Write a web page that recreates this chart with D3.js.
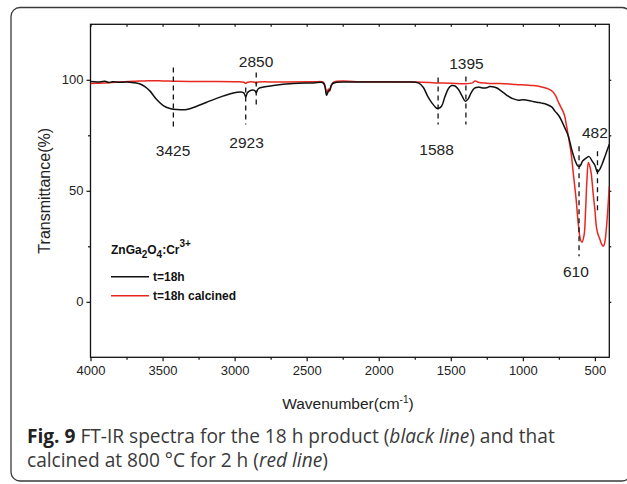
<!DOCTYPE html>
<html>
<head>
<meta charset="utf-8">
<script src="https://cdn.jsdelivr.net/npm/d3@7"></script>
<style>
  html, body { margin: 0; padding: 0; background: #fff; }
  svg { display: block; }
</style>
</head>
<body>
<svg id="chart" width="627" height="484"></svg>
<script>
// ---------------- DATA ----------------
const blackWavenumber = [4000,3950,3900,3870,3850,3800,3750,3700,3660,3620,3587,3541,3495,3449,3400,3332,3263,3194,3101,3009,2955,2935,2923,2910,2885,2862,2850,2838,2824,2732,2593,2454,2390,2375,2362,2352,2340,2325,2300,2200,2000,1800,1725,1690,1660,1630,1600,1588,1564,1540,1515,1494,1470,1445,1420,1400,1380,1360,1335,1309,1280,1251,1230,1210,1180,1158,1130,1101,1070,1031,1000,973,940,904,870,834,800,777,750,730,706,684,661,638,620,605,585,566,540,520,500,482,465,450,430,400];
const blackTransmittance = [99.2,99.0,99.3,98.8,99.1,98.9,99.0,98.7,98.2,96.8,94.9,91.1,88.4,87.1,86.6,86.6,88.1,89.9,92.2,94.1,94.5,94.0,92.3,94.3,95.3,95.2,94.2,95.8,96.4,97.4,98.3,98.6,98.8,97.5,93.0,94.5,95.5,98.0,98.8,99.0,99.0,99.0,98.6,96.5,92.5,89.5,87.3,87.1,88.1,92.5,96.2,97.4,97.2,95.5,92.5,90.4,91.3,94.0,96.2,96.7,96.3,96.4,97.0,96.9,96.3,95.3,94.0,92.6,91.5,90.8,91.0,90.8,90.4,89.9,89.5,88.9,87.8,85.9,83.8,81.4,78.0,74.6,68.6,63.8,61.3,61.0,63.4,64.5,65.4,63.5,61.5,58.4,59.8,62.0,65.5,71.0];

const redWavenumber = [4000,3950,3900,3850,3800,3700,3600,3500,3400,3200,3000,2935,2923,2910,2860,2850,2840,2700,2450,2385,2372,2360,2350,2340,2328,2310,2100,1900,1750,1650,1588,1500,1400,1350,1330,1310,1250,1158,1050,927,870,823,790,770,750,730,711,696,680,665,650,630,615,600,590,575,565,555,545,535,526,510,500,490,480,465,452,442,432,423,412,400];
const redTransmittance = [98.3,98.4,98.6,98.8,99.0,99.3,99.6,99.5,99.3,99.2,99.1,98.9,98.3,98.9,98.9,98.4,98.9,99.0,99.1,98.9,97.0,94.2,95.8,95.0,97.5,99.0,99.1,99.1,99.0,98.8,98.6,98.5,98.2,98.6,99.5,98.9,98.5,98.3,97.9,97.4,96.8,95.9,94.5,92.5,89.5,87.0,84.0,79.0,73.0,67.0,58.0,46.0,35.0,28.0,26.8,30.0,40.5,55.0,62.8,61.0,58.1,47.5,41.6,34.0,30.8,28.1,25.8,25.0,26.5,31.1,40.0,52.0];

const xTickValues = [4000,3500,3000,2500,2000,1500,1000,500];
const xMinorTicks = [3750,3250,2750,2250,1750,1250,750];
const yTickValues = [0,50,100];
const yMinorTicks = [25,75];

const peakLabels = ["3425","2923","2850","1588","1395","610","482"];
const peakWavenumbers = [3425,2923,2850,1588,1395,610,482];

const seriesNames = ["t=18h","t=18h calcined"];
const seriesColors = ["#111111","#e8281e"];

// ---------------- LAYOUT ----------------
const svg = d3.select("#chart");
const PL = 90.5, PR = 609.3, PT = 24.3, PB = 357.3;
const x = d3.scaleLinear().domain([4000, 400]).range([PL, PR]);
const y = d3.scaleLinear().domain([-25, 125]).range([PB, PT]);
const FONT = "'Liberation Sans', Arial, Helvetica, sans-serif";

// outer figure border (rounded, clipped at right)
svg.append("rect")
  .attr("x", 11).attr("y", 7.5).attr("width", 620).attr("height", 473.5)
  .attr("rx", 9).attr("ry", 9)
  .attr("fill", "none").attr("stroke", "#3a3a3a").attr("stroke-width", 1.3);

// clip for spectra
svg.append("clipPath").attr("id", "plotclip")
  .append("rect").attr("x", PL).attr("y", PT).attr("width", PR - PL).attr("height", PB - PT);

// axes
const axisColor = "#111";
const gBottom = svg.append("g").attr("transform", `translate(0,${PB})`)
  .call(d3.axisBottom(x).tickValues(xTickValues).tickSize(4).tickPadding(4).tickFormat(d3.format("d")));
const gBottomMinor = svg.append("g").attr("transform", `translate(0,${PB})`)
  .call(d3.axisBottom(x).tickValues(xMinorTicks).tickSize(2.5).tickFormat(""));
const gTop = svg.append("g").attr("transform", `translate(0,${PT})`)
  .call(d3.axisBottom(x).tickValues(xTickValues.concat(xMinorTicks)).tickSize(2.5).tickFormat(""));
const gLeft = svg.append("g").attr("transform", `translate(${PL},0)`)
  .call(d3.axisLeft(y).tickValues(yTickValues).tickSize(4).tickPadding(3).tickFormat(d3.format("d")));
const gLeftMinor = svg.append("g").attr("transform", `translate(${PL},0)`)
  .call(d3.axisLeft(y).tickValues(yMinorTicks).tickSize(2.5).tickFormat(""));
const gRight = svg.append("g").attr("transform", `translate(${PR},0)`)
  .call(d3.axisRight(y).tickValues(yTickValues.concat(yMinorTicks)).tickSize(2).tickFormat(""));

[gBottom, gBottomMinor, gTop, gLeft, gLeftMinor, gRight].forEach(g => {
  g.select(".domain").remove();
  g.selectAll("line").attr("stroke", axisColor).attr("stroke-width", 1.2);
  g.selectAll("text").attr("font-family", FONT).attr("font-size", 13).attr("fill", "#222");
});

// frame
svg.append("rect").attr("x", PL).attr("y", PT).attr("width", PR - PL).attr("height", PB - PT)
  .attr("fill", "none").attr("stroke", axisColor).attr("stroke-width", 1.3);

// axis titles
svg.append("text")
  .attr("transform", `translate(46,${(PT + PB) / 2}) rotate(-90)`)
  .attr("text-anchor", "middle").attr("dominant-baseline", "middle")
  .attr("font-family", FONT).attr("font-size", 16).attr("fill", "#222")
  .text("Transmittance(%)");

const xt = svg.append("text")
  .attr("x", (PL + PR) / 2 - 2).attr("y", 408.5)
  .attr("text-anchor", "middle")
  .attr("font-family", FONT).attr("font-size", 15.5).attr("fill", "#222");
xt.append("tspan").text("Wavenumber(cm");
xt.append("tspan").attr("font-size", 10).attr("dy", -6).text("-1");
xt.append("tspan").attr("dy", 6).text(")");

// spectra
const line = d3.line().x(d => x(d[0])).y(d => y(d[1])).curve(d3.curveCatmullRom.alpha(0.5));
const blackData = d3.zip(blackWavenumber, blackTransmittance);
const redData = d3.zip(redWavenumber, redTransmittance);
const plot = svg.append("g").attr("clip-path", "url(#plotclip)");
plot.append("path").datum(redData).attr("d", line)
  .attr("fill", "none").attr("stroke", seriesColors[1]).attr("stroke-width", 1.5);
plot.append("path").datum(blackData).attr("d", line)
  .attr("fill", "none").attr("stroke", seriesColors[0]).attr("stroke-width", 1.5);

// peak annotations (vertical extents & label positions in data units)
const annot = {
  "3425": {y0: 105.5, y1: 78.1, lx: 3427, ly: 68.2},
  "2923": {y0: 96.5,  y1: 79.9, lx: 2917, ly: 71.8},
  "2850": {y0: 103.3, y1: 88.9, lx: 2851, ly: 108.2},
  "1588": {y0: 101.0, y1: 79.9, lx: 1599, ly: 68.6},
  "1395": {y0: 101.5, y1: 79.9, lx: 1391, ly: 107.3},
  "610":  {y0: 70.1,  y1: 20.5, lx: 632,  ly: 13.6},
  "482":  {y0: 67.8,  y1: 40.2, lx: 500,  ly: 76.3}
};
const ag = svg.append("g");
peakLabels.forEach((lab, i) => {
  const a = annot[lab];
  const wx = x(peakWavenumbers[i]);
  ag.append("line").attr("x1", wx).attr("x2", wx).attr("y1", y(a.y0)).attr("y2", y(a.y1))
    .attr("stroke", "#111").attr("stroke-width", 1.3).attr("stroke-dasharray", "5,4");
  ag.append("text").attr("x", x(a.lx)).attr("y", y(a.ly))
    .attr("text-anchor", "middle").attr("dominant-baseline", "central")
    .attr("font-family", FONT).attr("font-size", 15.5).attr("fill", "#222")
    .text(lab);
});

// legend
const lg = svg.append("g").attr("font-family", FONT).attr("font-weight", "bold").attr("fill", "#111");
const lt = lg.append("text").attr("x", 111).attr("y", 254).attr("font-size", 12);
lt.append("tspan").text("ZnGa");
lt.append("tspan").attr("font-size", 10).attr("dy", 4).text("2");
lt.append("tspan").attr("dy", -4).text("O");
lt.append("tspan").attr("font-size", 10).attr("dy", 4).text("4");
lt.append("tspan").attr("dy", -4).text(":Cr");
lt.append("tspan").attr("font-size", 10).attr("dy", -7).text("3+");
const legendY = [276.7, 295.7];
seriesNames.forEach((n, i) => {
  lg.append("line").attr("x1", 111).attr("x2", 149).attr("y1", legendY[i]).attr("y2", legendY[i])
    .attr("stroke", seriesColors[i]).attr("stroke-width", 1.5);
  lg.append("text").attr("x", 153).attr("y", legendY[i]).attr("dominant-baseline", "central")
    .attr("font-size", 12).text(n);
});

// caption
const CAPFONT = "'Open Sans', 'Noto Sans', sans-serif";
const cap1 = svg.append("text").attr("x", 27).attr("y", 443)
  .attr("font-family", CAPFONT).attr("font-size", 16).attr("fill", "#3a3a3a");
cap1.append("tspan").attr("font-weight", "bold").attr("fill", "#222").text("Fig. 9");
cap1.append("tspan").text(" FT-IR spectra for the 18 h product (");
cap1.append("tspan").attr("font-style", "italic").text("black line");
cap1.append("tspan").text(") and that");
const cap2 = svg.append("text").attr("x", 27).attr("y", 467)
  .attr("font-family", CAPFONT).attr("font-size", 16).attr("fill", "#3a3a3a");
cap2.append("tspan").text("calcined at 800 °C for 2 h (");
cap2.append("tspan").attr("font-style", "italic").text("red line");
cap2.append("tspan").text(")");
// fit caption width to the reference line length
const w1 = cap1.node().getComputedTextLength();
const fs = 16 * 528 / w1;
cap1.attr("font-size", fs);
cap2.attr("font-size", fs);
</script>
</body>
</html>
